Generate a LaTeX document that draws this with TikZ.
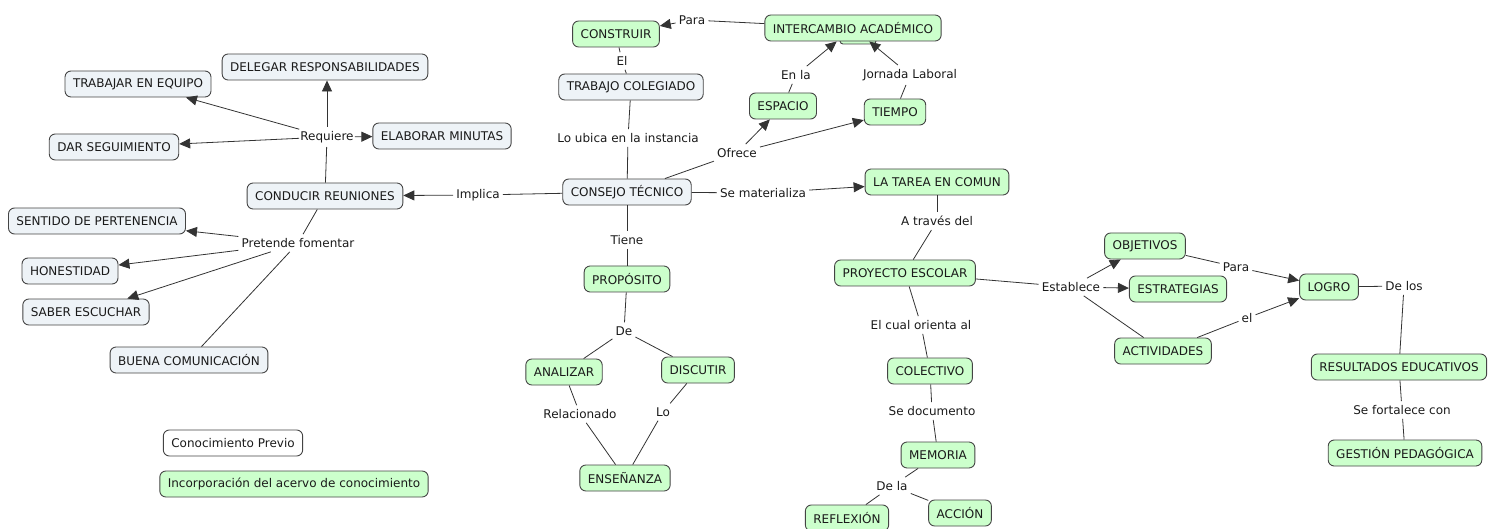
\documentclass[tikz,border=0pt]{standalone}
\usepackage{fontspec}
\setmainfont{DejaVu Sans}
\usetikzlibrary{arrows.meta}
\definecolor{gfill}{HTML}{CCFFCC}
\definecolor{bfill}{HTML}{EEF3F7}
\definecolor{boxline}{HTML}{444444}
\definecolor{linec}{HTML}{333333}
\definecolor{txt}{HTML}{1A1A1A}
\begin{document}
\begin{tikzpicture}[x=1pt,y=-1pt,
  box/.style={draw=boxline, rounded corners=6pt, line width=0.9pt, inner xsep=8pt,
    inner ysep=0pt, minimum height=26pt, font=\fontsize{12}{14}\selectfont, text=txt},
  gbox/.style={box, fill=gfill},
  bbox/.style={box, fill=bfill},
  wbox/.style={box, fill=white},
  lbl/.style={font=\fontsize{12}{14}\selectfont, text=txt, inner xsep=3pt, inner ysep=4pt},
  link/.style={draw=linec, line width=0.8pt},
  arr/.style={link, -{Triangle[length=11pt,width=10pt]}}
]
\useasboundingbox (0,0) rectangle (1488,529);

% tab peeking out below the exchange box
\draw[draw=boxline, fill=gfill, line width=0.9pt, rounded corners=3pt] (840,34) rectangle (876,44);

% concepts
\node[gbox] (construir) at (616,34) {CONSTRUIR};
\node[gbox] (intercambio) at (853,28) {INTERCAMBIO ACADÉMICO};
\node[bbox] (trabajo) at (631,87) {TRABAJO COLEGIADO};
\node[gbox] (espacio) at (783,106) {ESPACIO};
\node[gbox] (tiempo) at (895,112) {TIEMPO};
\node[bbox] (consejo) at (627,192) {CONSEJO TÉCNICO};
\node[gbox] (tarea) at (937,182) {LA TAREA EN COMUN};
\node[bbox] (conducir) at (325,196) {CONDUCIR REUNIONES};
\node[bbox] (delegar) at (325,67) {DELEGAR RESPONSABILIDADES};
\node[bbox] (trabajar) at (138,84) {TRABAJAR EN EQUIPO};
\node[bbox] (seguimiento) at (114,147) {DAR SEGUIMIENTO};
\node[bbox] (minutas) at (442,136) {ELABORAR MINUTAS};
\node[bbox] (sentido) at (97,221) {SENTIDO DE PERTENENCIA};
\node[bbox] (honestidad) at (70,271) {HONESTIDAD};
\node[bbox] (saber) at (86,312) {SABER ESCUCHAR};
\node[bbox] (buena) at (189,360) {BUENA COMUNICACIÓN};
\node[wbox] (previo) at (233,443) {Conocimiento Previo};
\node[gbox] (incorp) at (294,484) {Incorporación del acervo de conocimiento};
\node[gbox] (proposito) at (627,279) {PROPÓSITO};
\node[gbox] (analizar) at (564,372) {ANALIZAR};
\node[gbox] (discutir) at (698,370) {DISCUTIR};
\node[gbox] (ensenanza) at (625,478) {ENSEÑANZA};
\node[gbox] (proyecto) at (905,273) {PROYECTO ESCOLAR};
\node[gbox] (colectivo) at (930,371) {COLECTIVO};
\node[gbox] (memoria) at (938,455) {MEMORIA};
\node[gbox] (reflexion) at (847,518) {REFLEXIÓN};
\node[gbox] (accion) at (960,513) {ACCIÓN};
\node[gbox] (objetivos) at (1145,246) {OBJETIVOS};
\node[gbox] (estrategias) at (1178,289) {ESTRATEGIAS};
\node[gbox] (actividades) at (1163,351) {ACTIVIDADES};
\node[gbox] (logro) at (1329,287) {LOGRO};
\node[gbox] (resultados) at (1399,367) {RESULTADOS EDUCATIVOS};
\node[gbox] (gestion) at (1405,453) {GESTIÓN PEDAGÓGICA};

% linking phrases
\node[lbl] (lpara) at (692,20) {Para};
\node[lbl] (lel) at (622,61) {El};
\node[lbl] (lenla) at (796,75) {En la};
\node[lbl] (ljornada) at (910,75) {Jornada Laboral};
\node[lbl] (lubica) at (628,138) {Lo ubica en la instancia};
\node[lbl] (lofrece) at (737,153) {Ofrece};
\node[lbl] (lmat) at (763,193) {Se materializa};
\node[lbl] (limplica) at (478,195) {Implica};
\node[lbl, inner xsep=1pt] (lrequiere) at (327,137) {Requiere};
\node[lbl] (lpretende) at (298,243) {Pretende fomentar};
\node[lbl] (ltiene) at (627,240) {Tiene};
\node[lbl] (lde) at (624,331) {De};
\node[lbl] (lrelac) at (580,414) {Relacionado};
\node[lbl] (llo) at (663,412) {Lo};
\node[lbl] (latraves) at (937,221) {A través del};
\node[lbl] (lorienta) at (921,325) {El cual orienta al};
\node[lbl] (ldoc) at (932,411) {Se documento};
\node[lbl] (ldela) at (892,486) {De la};
\node[lbl] (lestablece) at (1071,287) {Establece};
\node[lbl] (lpara2) at (1236,267) {Para};
\node[lbl] (lel2) at (1247,318) {el};
\node[lbl] (ldelos) at (1404,286) {De los};
\node[lbl] (lfort) at (1402,410) {Se fortalece con};

% connectors
\draw[link] (intercambio) -- (lpara);
\draw[arr] (lpara) -- (construir);
\draw[link] (construir) -- (lel);
\draw[link] (lel) -- (trabajo);
\draw[link] (trabajo) -- (lubica);
\draw[link] (lubica) -- (consejo);
\draw[link] (consejo) -- (lofrece);
\draw[arr] (lofrece) -- (espacio);
\draw[arr] (lofrece) -- (tiempo);
\draw[link] (espacio) -- (lenla);
\draw[arr] (lenla) -- (intercambio);
\draw[link] (tiempo) -- (ljornada);
\draw[arr] (ljornada) -- (intercambio);
\draw[link] (consejo) -- (lmat);
\draw[arr] (lmat) -- (tarea);
\draw[link] (consejo) -- (limplica);
\draw[arr] (limplica) -- (conducir);
\draw[link] (conducir) -- (lrequiere);
\draw[arr] (lrequiere.north) -- (lrequiere.north |- delegar.south);
\draw[arr] (lrequiere) -- (trabajar);
\draw[arr] (lrequiere) -- (seguimiento);
\draw[arr] (lrequiere) -- (minutas);
\draw[link] (conducir) -- (lpretende);
\draw[arr] (lpretende) -- (sentido);
\draw[arr] (lpretende) -- (honestidad);
\draw[arr] (lpretende) -- (saber);
\draw[link] (lpretende) -- (buena);
\draw[link] (consejo) -- (ltiene);
\draw[link] (ltiene) -- (proposito);
\draw[link] (proposito) -- (lde);
\draw[link] (lde) -- (analizar);
\draw[link] (lde) -- (discutir);
\draw[link] (analizar) -- (lrelac);
\draw[link] (lrelac) -- (ensenanza);
\draw[link] (discutir) -- (llo);
\draw[link] (llo) -- (ensenanza);
\draw[link] (tarea) -- (latraves);
\draw[link] (latraves) -- (proyecto);
\draw[link] (proyecto) -- (lorienta);
\draw[link] (lorienta) -- (colectivo);
\draw[link] (colectivo) -- (ldoc);
\draw[link] (ldoc) -- (memoria);
\draw[link] (memoria) -- (ldela);
\draw[link] (ldela) -- (reflexion);
\draw[link] (ldela) -- (accion);
\draw[link] (proyecto) -- (lestablece);
\draw[arr] (lestablece) -- (objetivos);
\draw[arr] (lestablece) -- (estrategias);
\draw[link] (lestablece) -- (actividades);
\draw[link] (objetivos) -- (lpara2);
\draw[arr] (lpara2) -- (logro);
\draw[link] (actividades) -- (lel2);
\draw[arr] (lel2) -- (logro);
\draw[link] (logro) -- (ldelos);
\draw[link] (ldelos) -- (resultados);
\draw[link] (resultados) -- (lfort);
\draw[link] (lfort) -- (gestion);
\end{tikzpicture}
\end{document}
